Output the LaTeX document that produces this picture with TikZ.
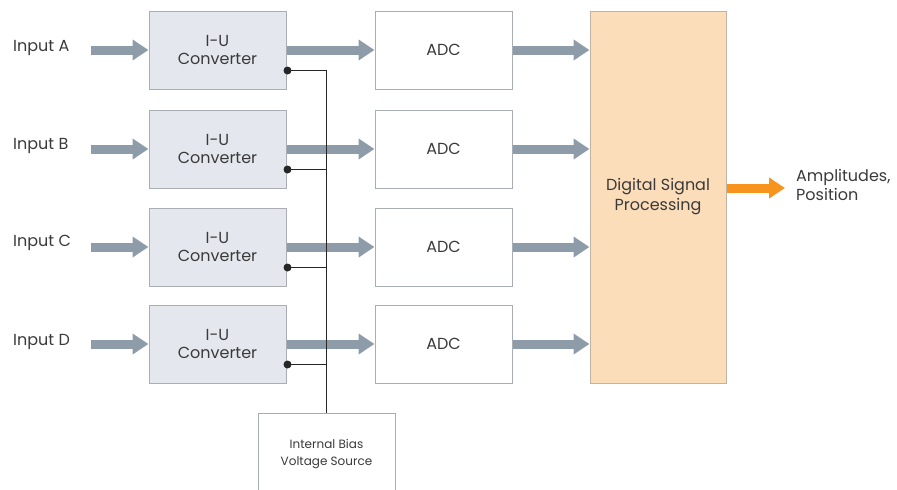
\documentclass[tikz,border=0pt]{standalone}
\usepackage{fontspec}
\setmainfont{Poppins}
\usetikzlibrary{arrows.meta,calc}
\definecolor{iufill}{HTML}{E4E8EE}
\definecolor{boxline}{HTML}{A9AEB5}
\definecolor{dspfill}{HTML}{FCDDBA}
\definecolor{dspline}{HTML}{BFB3A6}
\definecolor{arrgray}{HTML}{8E9CAA}
\definecolor{arrorange}{HTML}{F7941D}
\definecolor{txt}{HTML}{3A3A3A}
\tikzset{
  iubox/.style={draw=boxline, fill=iufill, line width=1pt, minimum width=137pt, minimum height=78pt, align=center, text=txt, font=\fontsize{16}{18.5}\selectfont, inner sep=0pt},
  adcbox/.style={draw=boxline, fill=white, line width=1pt, minimum width=137pt, minimum height=78pt, align=center, text=txt, font=\fontsize{16}{18.5}\selectfont, inner sep=0pt},
  dspbox/.style={draw=dspline, fill=dspfill, line width=1pt, minimum width=136pt, minimum height=372pt, align=center, text=txt, font=\fontsize{16}{20}\selectfont, inner sep=0pt},
  biasbox/.style={draw=boxline, fill=white, line width=1pt, minimum width=137pt, minimum height=80pt, text=txt, font=\fontsize{12}{17}\selectfont, inner sep=0pt},
  lbl/.style={text=txt, font=\fontsize{16}{19.5}\selectfont, inner sep=0pt, align=left},
  bigarrow/.style={draw=arrgray, line width=9pt, -{Triangle[length=16pt,width=20pt]}},
  orarrow/.style={draw=arrorange, line width=9pt, -{Triangle[length=16pt,width=20pt]}},
  bias/.style={draw=black!85, line width=1.1pt},
  dot/.style={circle, fill=black!85, inner sep=0pt, minimum size=8pt}
}
\begin{document}
\begin{tikzpicture}[x=1pt,y=-1pt]
\useasboundingbox (0,0) rectangle (897,490);
% boxes
\foreach \i/\y in {1/50,2/149,3/247,4/344}{
  \node[iubox] (iu\i) at (217.5,\y) {I-U\\Converter};
  \node[adcbox] (adc\i) at (443.5,\y) {ADC};
}
\node[dspbox] (dsp) at (658,197) {Digital Signal\\Processing};
\node[biasbox, anchor=north] (bias) at (326.5,413) {\raisebox{7pt}{\begin{tabular}{@{}c@{}}Internal Bias\\Voltage Source\end{tabular}}};
% input labels
\node[lbl, anchor=west] (inA) at (13,48) {Input A};
\node[lbl, anchor=west] (inB) at (13,146) {Input B};
\node[lbl, anchor=west] (inC) at (13,243) {Input C};
\node[lbl, anchor=west] (inD) at (13,342) {Input D};
\node[lbl, anchor=west] (out) at (796,185) {Amplitudes,\\Position};
% input arrows
\foreach \i in {1,2,3,4}{
  \draw[bigarrow] ([xshift=-58pt]iu\i.west) -- (iu\i.west);
}
% IU -> ADC, ADC -> DSP arrows
\foreach \i in {1,2,3,4}{
  \draw[bigarrow] (iu\i.east) -- (adc\i.west);
  \draw[bigarrow] (adc\i.east) -- (adc\i.east -| dsp.west);
}
% output
\draw[orarrow] ([yshift=9pt]dsp.east) -- ([yshift=9pt,xshift=-11pt]dsp.east -| out.west);
% bias lines
\foreach \i in {1,2,3,4}{
  \coordinate (d\i) at ([xshift=1pt,yshift=19pt]iu\i.south east);
}
\draw[bias] (d1) -| (bias.north);
\foreach \i in {2,3,4}{
  \draw[bias] (d\i) -- (d\i -| bias.north);
}
\foreach \i in {1,2,3,4}{
  \node[dot] at (d\i) {};
}
\end{tikzpicture}
\end{document}
